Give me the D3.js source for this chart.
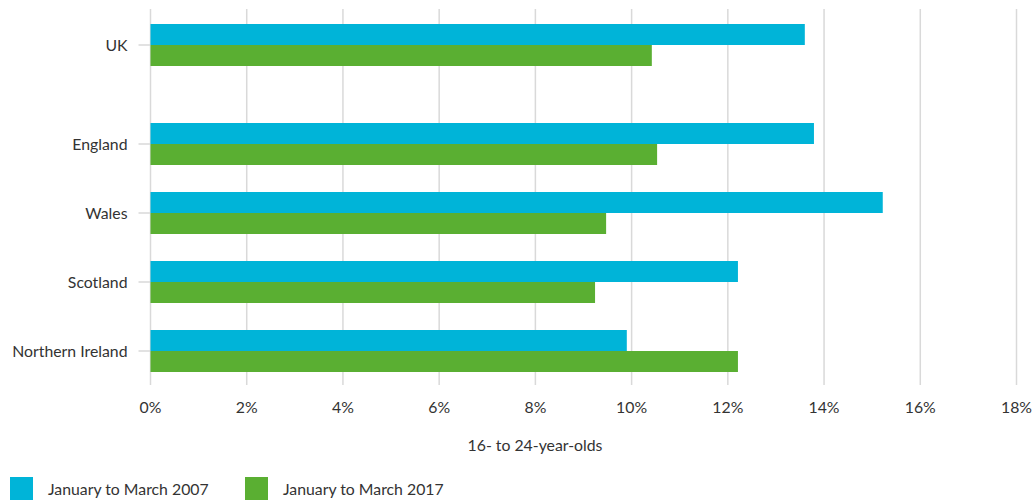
<!DOCTYPE html>
<html><head><meta charset="utf-8">
<script src="https://cdn.jsdelivr.net/npm/d3@7"></script>
<style>
body{margin:0;background:#fff;}
text{font-family:Lato,"Noto Sans",sans-serif;fill:#333;}
</style></head>
<body><svg id="c" width="1033" height="503"></svg>
<script>
const categories = ["UK","England","Wales","Scotland","Northern Ireland"];
const series2007 = [13.6,13.79,15.22,12.21,9.9];
const series2017 = [10.42,10.53,9.47,9.24,12.21];
const seriesNames = ["January to March 2007","January to March 2017"];
const colors = ["#00b4d8","#5aaf32"];
const xTicks = [0,2,4,6,8,10,12,14,16,18];
const xTitle = "16- to 24-year-olds";

const svg = d3.select("#c");
const plotLeft = 150.5, plotRight = 1016.5, plotTop = 9, plotBottom = 385;
const ukGap = 30;
const fs = 15.8;
const x = d3.scaleLinear().domain([0,18]).range([plotLeft,plotRight]);
const y = d3.scaleBand().domain(categories).range([10.5,355.5]).paddingInner(27/69).paddingOuter(27/138);
const yPos = c => y(c) + (c === "UK" ? 0 : ukGap);
const sub = d3.scaleBand().domain([0,1]).range([0,y.bandwidth()]);

// gridlines
svg.append("g").selectAll("line").data(xTicks).join("line")
  .attr("x1",d=>x(d)).attr("x2",d=>x(d)).attr("y1",plotTop).attr("y2",plotBottom)
  .attr("stroke","#d9d9d9").attr("stroke-width",1.5);

// y tick marks and labels
const yg = svg.append("g");
categories.forEach(c=>{
  const cy = yPos(c)+y.bandwidth()/2;
  yg.append("line").attr("x1",plotLeft-12).attr("x2",plotLeft).attr("y1",cy).attr("y2",cy)
    .attr("stroke","#d9d9d9").attr("stroke-width",1.5);
  yg.append("text").attr("x",plotLeft-23).attr("y",cy).attr("dy","0.35em")
    .attr("text-anchor","end").attr("font-size",fs).text(c);
});

// bars
const data = [series2007, series2017];
data.forEach((vals,si)=>{
  svg.append("g").selectAll("rect").data(categories).join("rect")
    .attr("x",x(0)).attr("y",(c)=>yPos(c)+sub(si))
    .attr("width",(c,i)=>x(vals[i])-x(0)).attr("height",sub.bandwidth())
    .attr("fill",colors[si]);
});

// x axis labels
svg.append("g").selectAll("text").data(xTicks).join("text")
  .attr("x",d=>x(d)).attr("y",407).attr("dy","0.35em").attr("text-anchor","middle")
  .attr("font-size",fs).text(d=>d+"%");

svg.append("text").attr("x",535).attr("y",445).attr("dy","0.35em").attr("text-anchor","middle")
  .attr("font-size",fs).text(xTitle);

// legend
const legX = [10,245];
seriesNames.forEach((n,i)=>{
  svg.append("rect").attr("x",legX[i]).attr("y",477).attr("width",23).attr("height",23).attr("fill",colors[i]);
  svg.append("text").attr("x",legX[i]+38).attr("y",489).attr("dy","0.35em").attr("font-size",fs).text(n);
});
</script></body></html>
